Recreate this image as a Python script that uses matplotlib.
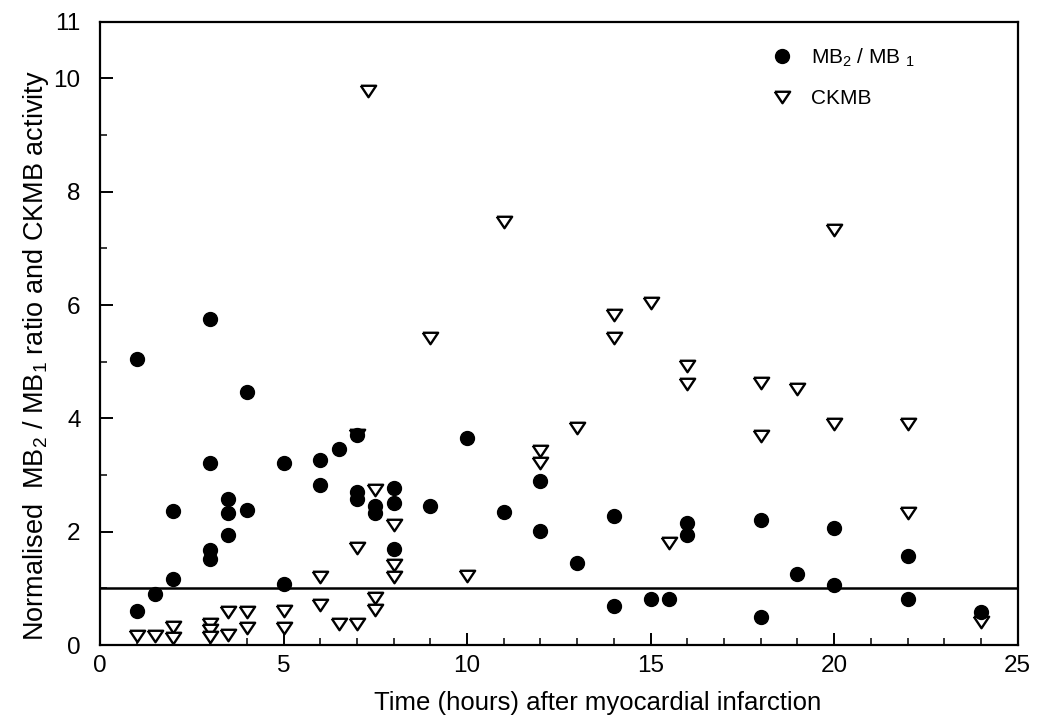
import matplotlib.pyplot as plt
from matplotlib.ticker import MultipleLocator

plt.rcParams['font.family'] = ['Liberation Sans', 'DejaVu Sans']
plt.rcParams['mathtext.default'] = 'regular'

# MB2/MB1 ratio (filled circles)
mb_time = [1, 1, 1.5, 2, 2, 3, 3, 3, 3, 3.5, 3.5, 3.5, 4, 4, 5, 5, 6, 6, 6.5,
           7, 7, 7, 7.5, 7.5, 8, 8, 8, 9, 10, 11, 12, 12, 13, 14, 14, 15, 15.5,
           16, 16, 18, 18, 19, 20, 20, 22, 22, 24]
mb_ratio = [5.05, 0.60, 0.91, 2.37, 1.17, 5.76, 3.21, 1.68, 1.52, 2.58, 2.33, 1.94,
            4.46, 2.39, 3.22, 1.08, 3.27, 2.83, 3.46, 3.71, 2.71, 2.58, 2.45, 2.33,
            2.77, 2.51, 1.70, 2.46, 3.66, 2.34, 2.90, 2.02, 1.45, 2.27, 0.69, 0.81,
            0.81, 2.15, 1.94, 2.21, 0.50, 1.25, 2.07, 1.06, 1.57, 0.82, 0.59]

# CKMB activity (open triangles)
ck_time = [1, 1.5, 2, 2, 3, 3, 3, 3.5, 3.5, 4, 4, 5, 5, 6, 6, 6.5, 7, 7, 7,
           7.3, 7.5, 7.5, 7.5, 8, 8, 8, 9, 10, 11, 12, 12, 13, 14, 14, 15, 15.5,
           16, 16, 18, 18, 19, 20, 20, 22, 22, 24]
ck_act = [0.16, 0.16, 0.32, 0.12, 0.38, 0.26, 0.15, 0.59, 0.17, 0.59, 0.31, 0.60,
          0.31, 1.21, 0.71, 0.38, 0.38, 1.71, 3.71, 9.78, 2.73, 0.83, 0.62, 2.12,
          1.41, 1.21, 5.42, 1.22, 7.46, 3.42, 3.22, 3.83, 5.83, 5.42, 6.04, 1.81,
          4.92, 4.61, 4.62, 3.69, 4.52, 7.32, 3.90, 3.90, 2.33, 0.41]

ref_level = 1

tri = [(-1, 0.75), (1, 0.75), (0, -0.75), (-1, 0.75)]

fig = plt.figure(figsize=(10.37, 7.24), dpi=100)
ax = fig.add_axes([0.0964, 0.109, 0.885, 0.861])

ax.axhline(ref_level, color='black', lw=1.8, zorder=1)
ax.plot(ck_time, ck_act, ls='none', marker=tri, ms=11, mfc='white',
        mec='black', mew=1.7, label='CKMB', zorder=2)
ax.plot(mb_time, mb_ratio, ls='none', marker='o', ms=10, mfc='black',
        mec='black', label=r'MB$_2$ / MB $_1$', zorder=3)

ax.set_xlim(0, 25)
ax.set_ylim(0, 11)
ax.set_xticks([0, 5, 10, 15, 20, 25])
ax.xaxis.set_minor_locator(MultipleLocator(1))
ax.set_yticks([0, 2, 4, 6, 8, 10, 11])
ax.yaxis.set_minor_locator(MultipleLocator(1))
ax.tick_params(which='major', direction='in', length=9, width=1.4,
               labelsize=17.5, top=False, right=False)
ax.tick_params(axis='y', which='major', pad=14)
ax.tick_params(axis='x', which='major', pad=7)
ax.tick_params(which='minor', direction='in', length=5, width=1.1,
               top=False, right=False)
for s in ax.spines.values():
    s.set_linewidth(1.6)

ax.set_xlabel('Time (hours) after myocardial infarction', fontsize=18.5)
ax.set_ylabel(r'Normalised  MB$_2$ / MB$_1$ ratio and CKMB activity',
              fontsize=19.5)
ax.xaxis.set_label_coords(0.542, -0.073)
ax.yaxis.set_label_coords(-0.053, 0.465)

h, l = ax.get_legend_handles_labels()
ax.legend(h[::-1], l[::-1], loc='upper right', frameon=False, fontsize=15,
          bbox_to_anchor=(0.909, 0.99), handletextpad=0.4, labelspacing=0.95)

fig.savefig('out.png', dpi=100)
